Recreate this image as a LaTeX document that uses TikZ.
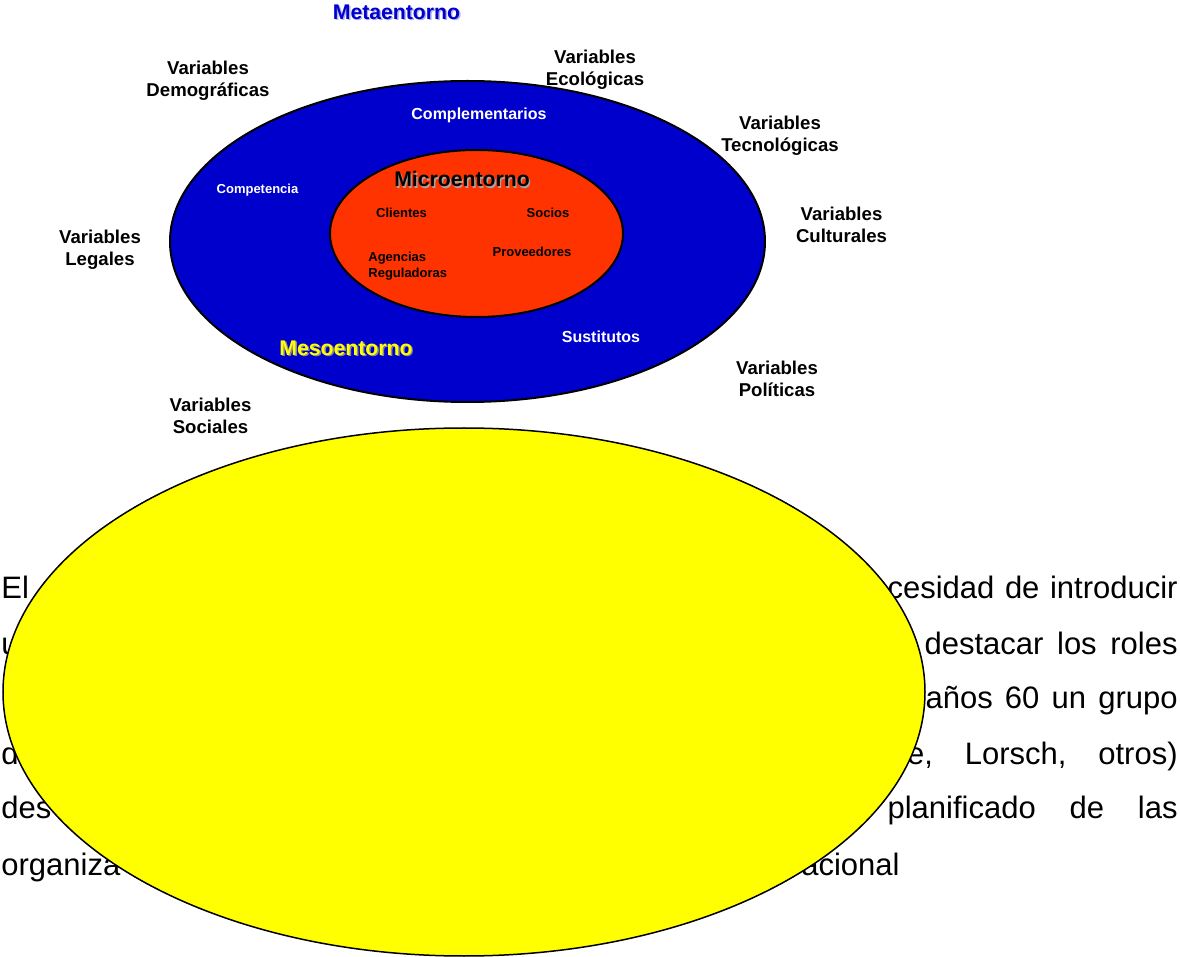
\documentclass[tikz,border=0pt]{standalone}
\usepackage{fontspec}
\setmainfont{Liberation Sans}
\definecolor{mesoblue}{RGB}{0,0,204}
\definecolor{microred}{RGB}{255,51,0}
\definecolor{blobyellow}{RGB}{255,255,0}
\newcommand{\shadowtext}[2]{\makebox[0pt][l]{\kern0.7pt\raisebox{-0.7pt}{\textcolor{#1}{#2}}}#2}

\begin{document}
\begin{tikzpicture}[x=0.5pt, y=-0.5pt,
  varlabel/.style={align=center, inner sep=0pt, font=\fontsize{9.3}{11}\selectfont\bfseries},
  actor/.style={align=left, inner sep=0pt, font=\fontsize{6.5}{8}\selectfont\bfseries},
  mesoactor/.style={inner sep=0pt, text=white, font=\fontsize{8}{9.6}\selectfont\bfseries},
  level/.style={inner sep=0pt, font=\fontsize{10.6}{12.7}\selectfont\bfseries},
  prose/.style={inner sep=0pt, font=\fontsize{15.5}{18.6}\selectfont}]
  \useasboundingbox (0,0) rectangle (1180,957);

  \draw[line width=1pt, fill=mesoblue] (467.5,241.5) ellipse [x radius=148.75pt, y radius=80.25pt];
  \draw[line width=1pt, fill=microred] (476.5,233.5) ellipse [x radius=73.25pt, y radius=41.75pt];

  \node[level, text=mesoblue] (meta) at (396.5,13) {\shadowtext{mesoblue!30}{Metaentorno}};
  \node[level] (micro) at (462,180) {\shadowtext{black!35}{Microentorno}};
  \node[level, text=blobyellow] (meso) at (346,349) {\shadowtext{black!45}{Mesoentorno}};

  \node[varlabel] (demograficas) at (208,81) {Variables\\Demográficas};
  \node[varlabel] (ecologicas) at (595,70) {Variables\\Ecológicas};
  \node[varlabel] (tecnologicas) at (780,136) {Variables\\Tecnológicas};
  \node[varlabel] (culturales) at (841.5,225) {Variables\\Culturales};
  \node[varlabel] (legales) at (100,250) {Variables\\Legales};
  \node[varlabel] (politicas) at (777,379) {Variables\\Políticas};
  \node[varlabel] (sociales) at (210.5,416) {Variables\\Sociales};

  \node[mesoactor] (complementarios) at (479,115) {Complementarios};
  \node[mesoactor] (sustitutos) at (601,337) {Sustitutos};
  \node[actor, text=white] (competencia) at (257.5,190) {Competencia};

  \node[actor] (clientes) at (401.5,213) {Clientes};
  \node[actor] (socios) at (548,213) {Socios};
  \node[actor] (proveedores) at (532,252) {Proveedores};
  \node[actor, anchor=west] (agencias) at (368,266) {Agencias\\Reguladoras};

  \node[prose, anchor=base west] (el) at (1,599) {El};
  \node[prose, anchor=base west] (u) at (1,654) {u};
  \node[prose, anchor=base west] (d) at (1,764) {d};
  \node[prose, anchor=base west] (des) at (1,819) {des};
  \node[prose, anchor=base west] (organiza) at (1,875) {organiza};

  \node[prose, anchor=base east] (linea1) at (1178,599) {\makebox[145pt][s]{cesidad de introducir}};
  \node[prose, anchor=base east] (linea2) at (1178,654) {\makebox[126.5pt][s]{destacar los roles}};
  \node[prose, anchor=base east] (linea3) at (1178,709) {\makebox[126pt][s]{años 60 un grupo}};
  \node[prose, anchor=base east] (linea4) at (1178,764) {\makebox[143pt][s]{ce, Lorsch, otros)}};
  \node[prose, anchor=base east] (linea5) at (1178,819) {\makebox[145pt][s]{planificado de las}};
  \node[prose, anchor=base east] (linea6) at (900,875) {acional};

  \draw[line width=0.75pt, fill=blobyellow] (464,692) ellipse [x radius=230.5pt, y radius=132pt];
\end{tikzpicture}
\end{document}
